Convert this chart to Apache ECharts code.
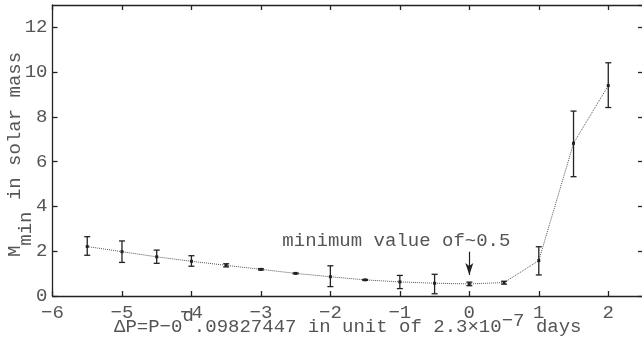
<!DOCTYPE html>
<html>
<head>
<meta charset="utf-8">
<style>html,body{margin:0;padding:0;background:#fff;}#c{width:642px;height:340px;}</style>
<script src="https://cdn.jsdelivr.net/npm/echarts@6/dist/echarts.min.js"></script>
</head>
<body>
<div id="c"></div>
<script>
// Data
const xs     = [-5.5, -5, -4.5, -4, -3.5, -3, -2.5, -2, -1.5, -1, -0.5, 0, 0.5, 1, 1.5, 2];
const mmin   = [2.21, 1.98, 1.75, 1.55, 1.37, 1.19, 1.01, 0.86, 0.72, 0.63, 0.57, 0.54, 0.60, 1.58, 6.82, 9.40];
const lower  = [1.82, 1.50, 1.46, 1.33, 1.30, 1.16, 0.99, 0.42, 0.70, 0.33, 0.10, 0.46, 0.53, 0.94, 5.33, 8.42];
const upper  = [2.65, 2.46, 2.05, 1.80, 1.44, 1.22, 1.03, 1.35, 0.74, 0.92, 0.97, 0.62, 0.66, 2.20, 8.26, 10.42];
const annotText = 'minimum value of~0.5';
const annotPos = [-1.05, 2.45];
const arrowFrom = [0, 1.98];
const arrowTo = [0, 0.94];

const FONT = 'Liberation Mono';
const TXT = '#555';
const AX = '#222';

const chart = echarts.init(document.getElementById('c'), null, {renderer: 'canvas'});
const minus = v => String(v).replace('-', '\u2212');

const baseAxisLine = {show: true, onZero: false, lineStyle: {color: AX, width: 1.3}};
const option = {
  animation: false,
  grid: {left: 52.5, right: -1, top: 5, bottom: 44, containLabel: false, outerBoundsMode: 'none'},
  xAxis: [{
    type: 'value', min: -6, max: 2.5, interval: 1, position: 'bottom',
    axisLine: baseAxisLine,
    axisTick: {inside: true, length: 5, lineStyle: {color: AX, width: 1.3}},
    axisLabel: {fontFamily: FONT, fontSize: 19, color: TXT, margin: 7, showMaxLabel: false, formatter: minus},
    splitLine: {show: false},
    nameLocation: 'middle', nameGap: 10, nameMoveOverlap: false,
    name: '{a|\u0394P=P\u22120}{s|d}{a|.09827447 in unit of 2.3\u00d710}{t|\u22127}{a| days}',
    nameTextStyle: {
      rich: {
        a: {fontFamily: FONT, fontSize: 19, color: TXT, lineHeight: 30, verticalAlign: 'bottom'},
        s: {fontFamily: FONT, fontSize: 19, color: TXT, lineHeight: 22, verticalAlign: 'top'},
        t: {fontFamily: FONT, fontSize: 19, color: TXT, lineHeight: 22, verticalAlign: 'middle'}
      }
    }
  }, {
    type: 'value', min: -6, max: 2.5, interval: 1, position: 'top',
    axisLine: baseAxisLine,
    axisTick: {inside: true, length: 5, lineStyle: {color: AX, width: 1.3}},
    axisLabel: {show: false}, splitLine: {show: false}
  }],
  yAxis: [{
    type: 'value', min: 0, max: 13, interval: 2, position: 'left',
    axisLine: baseAxisLine,
    axisTick: {inside: true, length: 5, lineStyle: {color: AX, width: 1.3}},
    axisLabel: {fontFamily: FONT, fontSize: 19, color: TXT, margin: 5, showMaxLabel: false},
    splitLine: {show: false},
    nameLocation: 'middle', nameGap: 17, nameMoveOverlap: false,
    name: '{a|M}{b|min}{a| in solar mass}',
    nameTextStyle: {
      padding: [0, 8, 0, 0],
      rich: {
        a: {fontFamily: FONT, fontSize: 19, color: TXT, lineHeight: 22, verticalAlign: 'top'},
        b: {fontFamily: FONT, fontSize: 19, color: TXT, lineHeight: 30, verticalAlign: 'bottom'}
      }
    }
  }, {
    type: 'value', min: 0, max: 13, interval: 2, position: 'right',
    axisLine: baseAxisLine,
    axisTick: {inside: true, length: 5, lineStyle: {color: AX, width: 1.3}},
    axisLabel: {show: false}, splitLine: {show: false}
  }],
  series: [{
    type: 'line',
    data: xs.map((x, i) => [x, mmin[i]]),
    symbol: 'rect', symbolSize: 3,
    itemStyle: {color: '#222'},
    lineStyle: {type: 'dotted', width: 1, color: '#555'},
    z: 2,
    markPoint: {
      symbol: 'circle', symbolSize: 1, silent: true,
      itemStyle: {color: 'rgba(0,0,0,0)'},
      label: {show: true, position: 'inside', fontFamily: FONT, fontSize: 19, color: TXT, formatter: annotText},
      data: [{coord: annotPos}]
    },
    markLine: {
      silent: true, symbol: ['none', 'arrow'], symbolSize: [6, 12],
      label: {show: false},
      lineStyle: {type: 'solid', color: AX, width: 1.2},
      data: [[{coord: arrowFrom}, {coord: arrowTo}]]
    }
  }, {
    type: 'custom',
    data: xs.map((x, i) => [x, lower[i], upper[i]]),
    encode: {x: 0, y: [1, 2]},
    z: 3,
    renderItem: function (params, api) {
      const x = api.value(0);
      const pLo = api.coord([x, api.value(1)]);
      const pHi = api.coord([x, api.value(2)]);
      const hw = 3;
      const st = {stroke: '#222', lineWidth: 1.3};
      return {
        type: 'group',
        children: [
          {type: 'line', shape: {x1: pLo[0], y1: pLo[1], x2: pHi[0], y2: pHi[1]}, style: st},
          {type: 'line', shape: {x1: pLo[0] - hw, y1: pLo[1], x2: pLo[0] + hw, y2: pLo[1]}, style: st},
          {type: 'line', shape: {x1: pHi[0] - hw, y1: pHi[1], x2: pHi[0] + hw, y2: pHi[1]}, style: st}
        ]
      };
    }
  }]
};
chart.setOption(option);
</script>
</body>
</html>
